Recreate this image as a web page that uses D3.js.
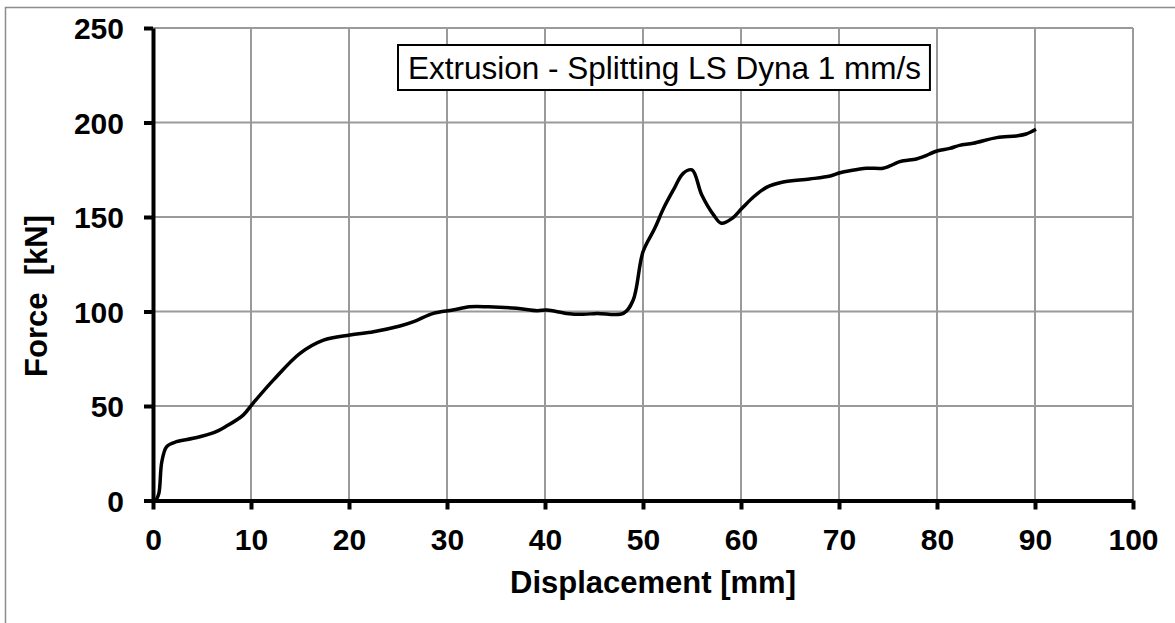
<!DOCTYPE html>
<html>
<head>
<meta charset="utf-8">
<script src="https://cdn.jsdelivr.net/npm/d3@7"></script>
<style>
  html, body { margin: 0; padding: 0; background: #fff; }
  svg { display: block; font-family: 'Liberation Sans', Arial, sans-serif; }
</style>
</head>
<body>
<div id="chart"></div>
<script>
// values
const displacement = [0.3, 0.6, 0.9, 1.4, 2.4, 4.1, 6.2, 7.5, 9.2, 10.2, 12.3, 15.0, 17.4, 20.1, 22.5, 25.2,
  26.6, 28.6, 30.6, 32.3, 34.2, 37.1, 39.2, 40.2, 42.2, 43.9, 45.3, 48.0, 49.0, 50.0, 51.2, 52.1, 53.1,
  54.1, 55.0, 56.0, 57.2, 58.0, 59.1, 60.1, 61.3, 62.6, 64.3, 67.0, 69.1, 70.1, 71.1, 72.8, 74.5, 75.2,
  76.2, 77.9, 78.6, 80.0, 81.3, 82.3, 83.7, 86.1, 88.1, 89.1, 90.1]
const force = [0, 3.8, 20.5, 28.5, 31.1, 32.9, 35.9, 39.4, 45.2, 51.4, 63.8, 77.9, 84.9, 87.6, 89.3, 92.3,
  94.6, 99.0, 100.8, 102.5, 102.5, 101.7, 100.4, 100.8, 99.0, 98.5, 99.0, 99.0, 106.1, 131.6, 144, 154.6, 164.3,
  173.1, 174.9, 161.6, 151.1, 146.7, 149.3, 154.6, 160.7, 165.7, 168.5, 170.1, 171.7, 173.4, 174.5, 175.8, 175.8, 177,
  179.3, 180.7, 181.9, 184.9, 186.3, 187.9, 189, 192, 192.9, 193.9, 196.4]
const xTicks = [0, 10, 20, 30, 40, 50, 60, 70, 80, 90, 100]
const yTicks = [0, 50, 100, 150, 200, 250]
const seriesLabel = 'Extrusion - Splitting LS Dyna 1 mm/s'
const xTitle = 'Displacement [mm]'
const yTitle = 'Force  [kN]'

const width = 1175
const height = 623
const plot = { left: 153, right: 1133, top: 28, bottom: 500.5 }

const svg = d3.select('#chart').append('svg')
  .attr('width', width)
  .attr('height', height)

// outer frame (right and bottom edges fall off the picture)
svg.append('rect')
  .attr('x', 5.5).attr('y', 7.5)
  .attr('width', width + 20).attr('height', height + 20)
  .attr('fill', 'none')
  .attr('stroke', '#8c8c8c')
  .attr('stroke-width', 1.5)

const x = d3.scaleLinear().domain([0, 100]).range([plot.left, plot.right])
const y = d3.scaleLinear().domain([0, 250]).range([plot.bottom, plot.top])

// grid
const grid = svg.append('g').attr('class', 'grid')
grid.selectAll('.vgrid')
  .data(xTicks.filter(d => d > 0))
  .join('line')
  .attr('x1', d => x(d)).attr('x2', d => x(d))
  .attr('y1', plot.top).attr('y2', plot.bottom)
  .attr('stroke', '#9a9a9a').attr('stroke-width', 2)
grid.selectAll('.hgrid')
  .data(yTicks.filter(d => d > 0))
  .join('line')
  .attr('x1', plot.left).attr('x2', plot.right)
  .attr('y1', d => y(d)).attr('y2', d => y(d))
  .attr('stroke', '#9a9a9a').attr('stroke-width', 2)

// axes
const xAxis = svg.append('g')
  .attr('transform', `translate(0,${plot.bottom})`)
  .call(d3.axisBottom(x).tickValues(xTicks).tickSize(9).tickPadding(19).tickSizeOuter(0))
const yAxis = svg.append('g')
  .attr('transform', `translate(${plot.left},0)`)
  .call(d3.axisLeft(y).tickValues(yTicks).tickSize(9).tickPadding(20).tickSizeOuter(0))

for (const ax of [xAxis, yAxis]) {
  ax.select('.domain').attr('stroke', '#000').attr('stroke-width', 4)
  ax.selectAll('.tick line').attr('stroke', '#000').attr('stroke-width', 4)
  ax.selectAll('.tick text')
    .attr('fill', '#000')
    .style('font-family', "'Liberation Sans', Arial, sans-serif")
    .style('font-size', '30px')
    .style('font-weight', 'bold')
}
yAxis.selectAll('.tick text').attr('dy', '0.36em')

// axis titles
svg.append('text')
  .attr('x', 653)
  .attr('y', 593)
  .attr('text-anchor', 'middle')
  .style('font-size', '31px')
  .style('font-weight', 'bold')
  .text(xTitle)

svg.append('text')
  .attr('transform', 'translate(47,296) rotate(-90)')
  .attr('text-anchor', 'middle')
  .style('font-size', '31px')
  .style('font-weight', 'bold')
  .style('white-space', 'pre')
  .text(yTitle)

// the curve
const points = displacement.map((d, i) => [d, force[i]])
const line = d3.line()
  .x(d => x(d[0]))
  .y(d => y(d[1]))
  .curve(d3.curveCatmullRom.alpha(0.5))

svg.append('path')
  .datum(points)
  .attr('d', line)
  .attr('fill', 'none')
  .attr('stroke', '#000')
  .attr('stroke-width', 3.5)
  .attr('stroke-linejoin', 'round')

// legend box
const legend = svg.append('g')
const legendText = legend.append('text')
  .attr('x', 408)
  .attr('y', 79)
  .style('font-size', '31.5px')
  .text(seriesLabel)
const bb = legendText.node().getBBox()
legend.insert('rect', 'text')
  .attr('x', 398)
  .attr('y', 45)
  .attr('width', bb.width + 19)
  .attr('height', 45)
  .attr('fill', '#fff')
  .attr('stroke', '#000')
  .attr('stroke-width', 2)
</script>
</body>
</html>
